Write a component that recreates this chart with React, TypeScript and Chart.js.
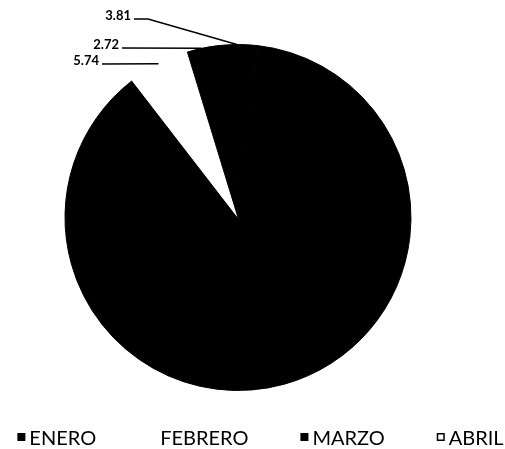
import React, { useEffect, useRef } from "react";
import { Chart, registerables } from "chart.js";

Chart.register(...registerables);

// ---- data ----
const categories = ["ENERO", "FEBRERO", "MARZO", "ABRIL"];
const values = [87.73, 5.74, 2.72, 3.81];
const valueLabels = ["", "5.74", "2.72", "3.81"];

// ---- styles ----
const sliceColors = ["#000000", "#ffffff", "#000000", "#000000"];
const markerFill = ["#000000", "#ffffff", "#000000", "#ffffff"];
const markerStroke = ["", "", "", "#000000"];

const FONT = "Lato, 'Open Sans', 'DejaVu Sans', sans-serif";

type LabelPos = { x: number; y: number; elbowX?: number } | null;
const labelPlacement: LabelPos[] = [
  null,
  { x: 99, y: 65 },
  { x: 119, y: 49 },
  { x: 131, y: 20, elbowX: 148 },
];

const dataLabelPlugin = {
  id: "dataLabelsLeader",
  afterDatasetsDraw(chart: any) {
    const ctx = chart.ctx as CanvasRenderingContext2D;
    const meta = chart.getDatasetMeta(0);
    ctx.save();
    meta.data.forEach((arc: any, i: number) => {
      const pos = labelPlacement[i];
      if (!pos || !valueLabels[i]) return;
      const p = arc.getProps(["x", "y", "startAngle", "endAngle", "outerRadius"], true);
      const mid = (p.startAngle + p.endAngle) / 2;
      const ax = p.x + Math.cos(mid) * p.outerRadius;
      const ay = p.y + Math.sin(mid) * p.outerRadius;
      ctx.fillStyle = "#000";
      ctx.font = `bold 13px ${FONT}`;
      ctx.textAlign = "right";
      ctx.textBaseline = "alphabetic";
      ctx.fillText(valueLabels[i], pos.x, pos.y);
      ctx.strokeStyle = "#000";
      ctx.lineWidth = 1.5;
      ctx.beginPath();
      const ly = pos.y - 1;
      ctx.moveTo(pos.x + 3, ly);
      if (pos.elbowX) ctx.lineTo(pos.elbowX, ly);
      ctx.lineTo(ax, ay);
      ctx.stroke();
    });
    ctx.restore();
  },
};

const legendPlugin = {
  id: "bottomLegend",
  afterDraw(chart: any) {
    const ctx = chart.ctx as CanvasRenderingContext2D;
    ctx.save();
    ctx.font = `20px ${FONT}`;
    const box = 8;
    const boxGap = 4;
    const gap = 52;
    const widths = categories.map((t) => box + boxGap + ctx.measureText(t).width);
    const total = widths.reduce((a, b) => a + b, 0) + gap * (categories.length - 1);
    let x = 260.5 - total / 2;
    const baseline = 445;
    const cy = 437;
    categories.forEach((t, i) => {
      ctx.fillStyle = markerFill[i];
      ctx.fillRect(x, cy - box / 2, box, box);
      if (markerStroke[i]) {
        ctx.strokeStyle = markerStroke[i];
        ctx.lineWidth = 1.5;
        ctx.strokeRect(x + 0.75, cy - box / 2 + 0.75, box - 1.5, box - 1.5);
      }
      ctx.fillStyle = "#000";
      ctx.textAlign = "left";
      ctx.textBaseline = "alphabetic";
      ctx.fillText(t, x + box + boxGap, baseline);
      x += widths[i] + gap;
    });
    ctx.restore();
  },
};

export default function App() {
  const ref = useRef<HTMLCanvasElement | null>(null);
  useEffect(() => {
    document.body.style.margin = "0";
    const canvas = ref.current;
    if (!canvas) return;
    const chart = new Chart(canvas, {
      type: "pie",
      data: {
        labels: categories,
        datasets: [
          {
            data: values,
            backgroundColor: sliceColors,
            borderColor: sliceColors,
            borderWidth: 1,
          },
        ],
      },
      options: {
        responsive: false,
        animation: false,
        rotation: 6.5,
        layout: { padding: { top: 44, bottom: 58, left: 0, right: 29 } },
        plugins: {
          legend: { display: false },
          tooltip: { enabled: false },
        },
      },
      plugins: [dataLabelPlugin, legendPlugin],
    });
    return () => chart.destroy();
  }, []);
  return (
    <div style={{ width: 505, height: 449, background: "#fff" }}>
      <canvas ref={ref} width={505} height={449} style={{ display: "block" }} />
    </div>
  );
}
